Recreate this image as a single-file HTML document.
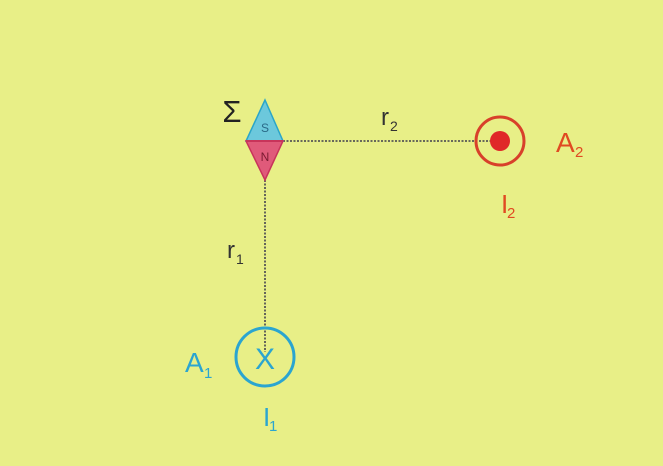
<!DOCTYPE html>
<html><head><style>
html,body{margin:0;padding:0;background:#e8ef87;}
svg{display:block;}
text{font-family:"Liberation Sans",sans-serif;}
</style></head><body>
<svg width="663" height="466" viewBox="0 0 663 466">
<rect width="663" height="466" fill="#e8ef87"/>
<line x1="283" y1="141" x2="493" y2="141" stroke="#555" stroke-width="1.8" stroke-dasharray="2,1.5"/>
<line x1="265" y1="180" x2="265" y2="352" stroke="#555" stroke-width="1.8" stroke-dasharray="2,1.5"/>
<polygon points="265,100 283,141 246,141" fill="#6cc8dc" stroke="#2ba5c8" stroke-width="1.5"/>
<polygon points="246,141 283,141 265,180" fill="#e05a7a" stroke="#c8345a" stroke-width="1.5"/>
<line x1="246" y1="141" x2="283" y2="141" stroke="#c8345a" stroke-width="2"/>
<text x="265" y="132" font-size="12" fill="#2a6a88" text-anchor="middle">S</text>
<text x="265" y="161" font-size="12" fill="#7a1a30" text-anchor="middle">N</text>
<text x="232" y="122" font-size="31" fill="#222" text-anchor="middle">Σ</text>
<text x="381" y="125" font-size="24" fill="#333">r</text>
<text x="390" y="131" font-size="14" fill="#333">2</text>
<text x="227" y="258" font-size="24" fill="#333">r</text>
<text x="236" y="264" font-size="14" fill="#333">1</text>
<circle cx="500" cy="141" r="24" fill="none" stroke="#d8402a" stroke-width="3"/>
<circle cx="500" cy="141" r="10" fill="#e02828"/>
<text x="556" y="152" font-size="28" fill="#e04a22">A</text>
<text x="575" y="157" font-size="15" fill="#e04a22">2</text>
<text x="501" y="213" font-size="26" fill="#e04a22">I</text>
<text x="507" y="218" font-size="15" fill="#e04a22">2</text>
<circle cx="265" cy="357" r="29" fill="none" stroke="#2ba5d0" stroke-width="3"/>
<text x="265" y="369" font-size="30" fill="#2ba5d0" text-anchor="middle">X</text>
<text x="185" y="372" font-size="28" fill="#2ba5d0">A</text>
<text x="204" y="378" font-size="15" fill="#2ba5d0">1</text>
<text x="263" y="426" font-size="26" fill="#2ba5d0">I</text>
<text x="269" y="431" font-size="15" fill="#2ba5d0">1</text>
</svg>
</body></html>
